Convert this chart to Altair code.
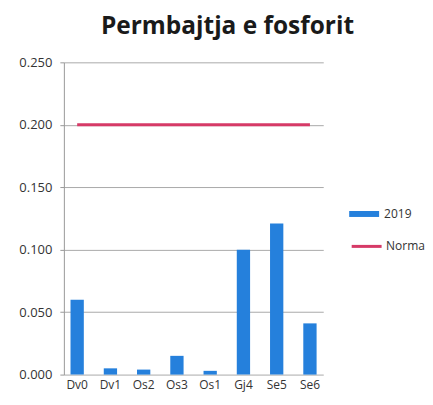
import altair as alt
import pandas as pd

categories = ["Dv0", "Dv1", "Os2", "Os3", "Os1", "Gj4", "Se5", "Se6"]
values_2019 = [0.060, 0.005, 0.004, 0.015, 0.003, 0.100, 0.121, 0.041]
norma = [0.200] * 8
y_ticks = [0.0, 0.05, 0.10, 0.15, 0.20, 0.25]

df = pd.DataFrame({"cat": categories, "v": values_2019, "n": norma,
                   "s1": ["2019"] * 8, "s2": ["Norma"] * 8})

FONT = "Open Sans"
x_enc = alt.X("cat:N", sort=categories, title=None,
              scale=alt.Scale(paddingInner=0.6, paddingOuter=0.2),
              axis=alt.Axis(labelAngle=0, ticks=False, domain=False, labelFontSize=12,
                            labelColor="#333333", labelPadding=5, labelFont=FONT))

bars = alt.Chart(df).mark_bar().encode(
    x=x_enc,
    y=alt.Y("v:Q", title=None,
            scale=alt.Scale(domain=[0, 0.25], nice=False),
            axis=alt.Axis(values=y_ticks, format=".3f", labelFontSize=13, labelColor="#333333",
                          labelFont=FONT, tickSize=4, tickColor="#999999", domainColor="#999999",
                          gridColor="#aaaaaa", labelPadding=8)),
    fill=alt.Fill("s1:N", scale=alt.Scale(domain=["2019"], range=["#2580dc"]),
                  legend=alt.Legend(title=None, orient="none", legendX=291, legendY=142,
                                    symbolType="M-1.5,-0.3H1.5V0.3H-1.5Z", symbolSize=400,
                                    symbolStrokeWidth=0, labelFontSize=12, labelFont=FONT,
                                    labelColor="#333333", labelOffset=10)),
)

line = alt.Chart(df).mark_line(strokeWidth=3).encode(
    x=alt.X("cat:N", sort=categories),
    y=alt.Y("n:Q"),
    stroke=alt.Stroke("s2:N", scale=alt.Scale(domain=["Norma"], range=["#d63a67"]),
                      legend=alt.Legend(title=None, orient="none", legendX=287, legendY=168,
                                        symbolType="stroke", symbolSize=900, symbolStrokeWidth=3,
                                        labelFontSize=12, labelFont=FONT,
                                        labelColor="#333333", labelOffset=3)),
)

chart = alt.layer(bars, line).resolve_scale(fill="independent", stroke="independent").properties(
    width=260, height=313,
    padding={"left": 10, "top": 5, "right": 0, "bottom": 4},
    title=alt.Title("Permbajtja  e fosforit", fontSize=24.5, font=FONT, fontWeight="bold",
                    color="#1a1a1a", anchor="middle", dx=34, offset=17),
).configure_view(stroke=None)

chart.save("out.html", embed_options={"renderer": "svg", "actions": False})
